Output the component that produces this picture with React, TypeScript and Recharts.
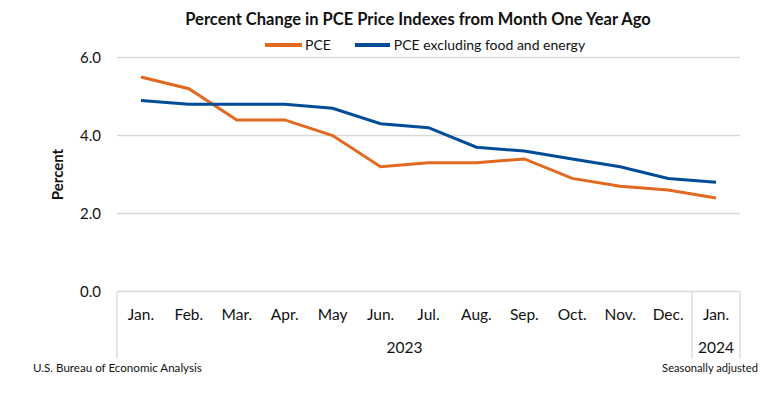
import React from "react";
import { LineChart, Line, XAxis, YAxis, CartesianGrid, Legend } from "recharts";

const months = ["Jan.", "Feb.", "Mar.", "Apr.", "May", "Jun.", "Jul.", "Aug.", "Sep.", "Oct.", "Nov.", "Dec.", "Jan."];
const years = ["2023", "2023", "2023", "2023", "2023", "2023", "2023", "2023", "2023", "2023", "2023", "2023", "2024"];
const pce = [5.5, 5.2, 4.4, 4.4, 4.0, 3.2, 3.3, 3.3, 3.4, 2.9, 2.7, 2.6, 2.4];
const corePce = [4.9, 4.8, 4.8, 4.8, 4.7, 4.3, 4.2, 3.7, 3.6, 3.4, 3.2, 2.9, 2.8];
const yTicks = [0, 2, 4, 6];

const data = months.map((m, i) => ({ key: `${m}-${years[i]}-${i}`, month: m, year: years[i], pce: pce[i], core: corePce[i] }));

const FONT = "Lato, 'Open Sans', sans-serif";
const ORANGE = "#E2691F";
const BLUE = "#004C97";
const GRID = "#D9D9D9";
const HALF_BAND = 623 / months.length / 2;

const MonthTick = (props: any) => {
  const { x, y, payload, width, visibleTicksCount } = props;
  const i: number = payload.index ?? props.index;
  const band = width / (visibleTicksCount || months.length);
  const year = years[i];
  const first = i === 0 || years[i - 1] !== year;
  const count = years.filter((v) => v === year).length;
  const left = x - band / 2;
  return (
    <g>
      <text x={x} y={y + 22.5} textAnchor="middle" dominantBaseline="central" fontFamily={FONT} fontSize={15.5} fill="#111">
        {months[i]}
      </text>
      {first && (
        <>
          <line x1={left} x2={left} y1={y} y2={y + 67} stroke={GRID} strokeWidth={1.3} />
          <text x={left + (count * band) / 2} y={y + 55.5} textAnchor="middle" dominantBaseline="central" fontFamily={FONT} fontSize={15.5} fill="#111">
            {year}
          </text>
        </>
      )}
      {i === years.length - 1 && (
        <line x1={x + band / 2} x2={x + band / 2} y1={y} y2={y + 67} stroke={GRID} strokeWidth={1.3} />
      )}
    </g>
  );
};

const LegendContent = () => (
  <div style={{ display: "flex", alignItems: "center", fontFamily: FONT, fontSize: 14, color: "#111", whiteSpace: "nowrap" }}>
    <div style={{ width: 37, height: 4, background: ORANGE, marginLeft: 265, marginRight: 3 }} />
    <span>PCE</span>
    <div style={{ width: 35, height: 4, background: BLUE, marginLeft: 24, marginRight: 4 }} />
    <span>PCE excluding food and energy</span>
  </div>
);

export default function App() {
  return (
    <div style={{ position: "absolute", left: 0, top: 0, width: 780, height: 396, background: "#fff" }}>
      <div
        style={{
          position: "absolute",
          left: 0,
          top: 9,
          width: 836,
          textAlign: "center",
          fontFamily: FONT,
          fontWeight: 700,
          fontSize: 16.5,
          color: "#111",
          whiteSpace: "nowrap",
        }}
      >
        Percent Change in PCE Price Indexes from Month One Year Ago
      </div>
      <LineChart width={780} height={396} data={data} margin={{ top: 57.5, right: 40, left: 0, bottom: 0 }}>
        <CartesianGrid vertical={false} stroke={GRID} strokeWidth={1.3} />
        <XAxis
          dataKey="key"
          height={104.5}
          axisLine={false}
          tickLine={false}
          tickSize={0}
          tickMargin={0}
          interval={0}
          padding={{ left: HALF_BAND, right: HALF_BAND }}
          tick={<MonthTick />}
        />
        <YAxis
          width={117}
          domain={[0, 6]}
          ticks={yTicks}
          axisLine={false}
          tickLine={false}
          tickSize={0}
          tickMargin={16}
          tickFormatter={(v: number) => v.toFixed(1)}
          tick={{ fontFamily: FONT, fontSize: 15, fill: "#111" }}
          label={{
            value: "Percent",
            angle: -90,
            position: "insideLeft",
            offset: 58,
            style: { fontFamily: FONT, fontSize: 15, fontWeight: 700, fill: "#111", textAnchor: "middle" },
          }}
        />
        <Legend
          layout="horizontal"
          verticalAlign="middle"
          align="center"
          wrapperStyle={{ top: 36, left: 0, width: 780 }}
          content={<LegendContent />}
        />
        <Line type="linear" dataKey="pce" name="PCE" stroke={ORANGE} strokeWidth={3} dot={false} isAnimationActive={false} />
        <Line type="linear" dataKey="core" name="PCE excluding food and energy" stroke={BLUE} strokeWidth={3} dot={false} isAnimationActive={false} />
      </LineChart>
      <div style={{ position: "absolute", left: 33, top: 361, fontFamily: FONT, fontSize: 11.6, color: "#111", whiteSpace: "nowrap" }}>
        U.S. Bureau of Economic Analysis
      </div>
      <div style={{ position: "absolute", right: 22, top: 361, fontFamily: FONT, fontSize: 11.2, color: "#111", whiteSpace: "nowrap" }}>
        Seasonally adjusted
      </div>
    </div>
  );
}
